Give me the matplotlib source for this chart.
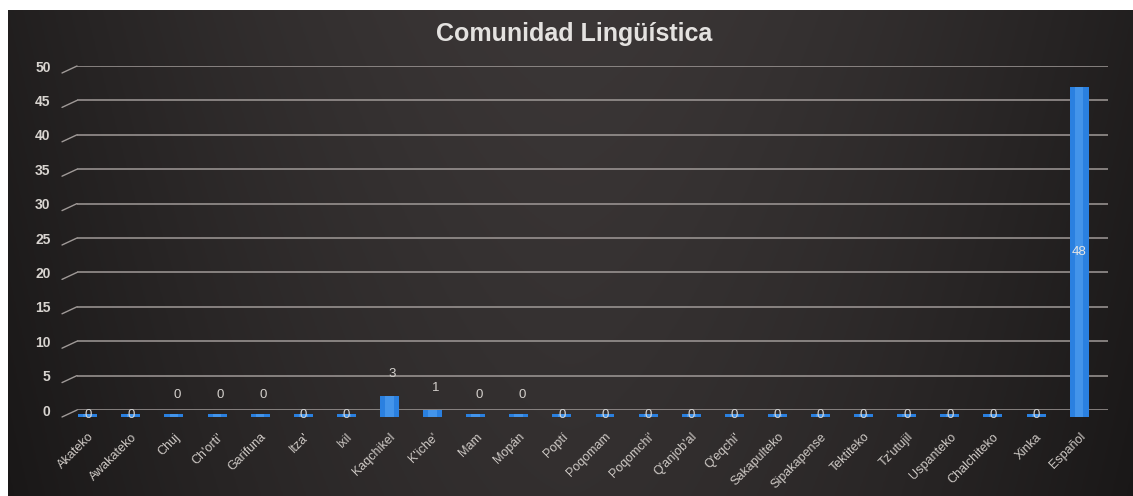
import numpy as np
import matplotlib
matplotlib.use("Agg")
import matplotlib.pyplot as plt

plt.rcParams['font.family'] = ['Liberation Sans', 'DejaVu Sans']

categories = ["Akateko", "Awakateko", "Chuj", "Ch'orti'", "Garifuna", "Itza'", "Ixil",
              "Kaqchikel", "K'iche'", "Mam", "Mopán", "Poptí", "Poqomam", "Poqomchi'",
              "Q'anjob'al", "Q'eqchi'", "Sakapulteko", "Sipakapense", "Tektiteko",
              "Tz'utujil", "Uspanteko", "Chalchiteko", "Xinka", "Español"]
values = [0, 0, 0, 0, 0, 0, 0, 3, 1, 0, 0, 0, 0, 0, 0, 0, 0, 0, 0, 0, 0, 0, 0, 48]
label_pos = ["in", "in", "above", "above", "above", "in", "in", "above", "above", "above",
             "above", "in", "in", "in", "in", "in", "in", "in", "in", "in", "in", "in",
             "in", "mid"]
title = "Comunidad Lingüística"
yticks = [0, 5, 10, 15, 20, 25, 30, 35, 40, 45, 50]

W, H = 1133, 496
fig = plt.figure(figsize=(W / 100, H / 100), dpi=100)
fig.patch.set_facecolor("white")

# dark gradient background
bg = fig.add_axes([8 / W, 0, 1 - 8 / W, (H - 10) / H])
xs = np.linspace(0, 1, 400)
ys = np.linspace(0, 1, 200)
X, Y = np.meshgrid(xs, ys)
lum = 0.19 - 0.13 * np.abs(X - 0.5) ** 1.6 * 2.2 + 0.03 * Y
lum = np.clip(lum, 0.06, 0.24)
img = np.dstack([lum * 1.05, lum * 0.97, lum * 0.97])
bg.imshow(np.clip(img, 0, 1), aspect="auto", extent=[0, 1, 0, 1], origin="lower")
bg.axis("off")

ax = fig.add_axes([77 / W, 86 / H, (1108 - 77) / W, (410 - 66) / H])
ax.set_facecolor("none")
n = len(categories)
x = np.arange(n)
ax.set_xlim(-0.25, n - 1 + 0.67)
ax.set_ylim(0, 50)

grid_color = "#a09a98"
for t in yticks:
    ax.axhline(t, color=grid_color, lw=1.1, zorder=1)
    ax.annotate("", xy=(0, t), xycoords=("axes fraction", "data"),
                xytext=(-15, -7), textcoords="offset pixels",
                arrowprops=dict(arrowstyle="-", color=grid_color, lw=1.0,
                                shrinkA=0, shrinkB=0), annotation_clip=False)

depth = 1.0
vals = np.array(values, dtype=float)
heights = np.maximum(vals, 0.45)
ax.bar(x, heights, width=0.44, bottom=-depth, color="#2a80e0", zorder=3, clip_on=False)
ax.bar(x, heights, width=0.2, bottom=-depth, color="#55a2f2", zorder=4, clip_on=False,
       alpha=0.6)

for i, (v, p) in enumerate(zip(values, label_pos)):
    if p == "above":
        ax.annotate(str(v), xy=(i, v), xytext=(3, 15), textcoords="offset pixels",
                    ha="center", va="center", color="#d4d0cc", fontsize=9.5, zorder=6)
    elif p == "mid":
        ax.text(i, v / 2 - depth, str(v), ha="center", va="center", color="#e6e6e6",
                fontsize=9.5, zorder=6)
    else:
        ax.annotate(str(v), xy=(i, 0), xytext=(0, -5), textcoords="offset pixels",
                    ha="center", va="center", color="#d8d8d8", fontsize=9.5, zorder=6)

ax.set_yticks(yticks)
ax.set_yticklabels([str(t) for t in yticks], color="#d8d4d0", fontsize=10,
                   fontweight="bold")
ax.tick_params(axis="y", length=0, pad=19)
ax.set_xticks(x)
ax.set_xticklabels(categories, rotation=45, ha="right", va="top",
                   rotation_mode="anchor", color="#cfcac6", fontsize=9)
ax.tick_params(axis="x", length=0, pad=15)
for s in ax.spines.values():
    s.set_visible(False)

fig.text(574 / W, 1 - 34 / H, title, ha="center", va="center", fontsize=18,
         fontweight="bold", color="#e4e2e0")

fig.savefig("out.png", dpi=100)
